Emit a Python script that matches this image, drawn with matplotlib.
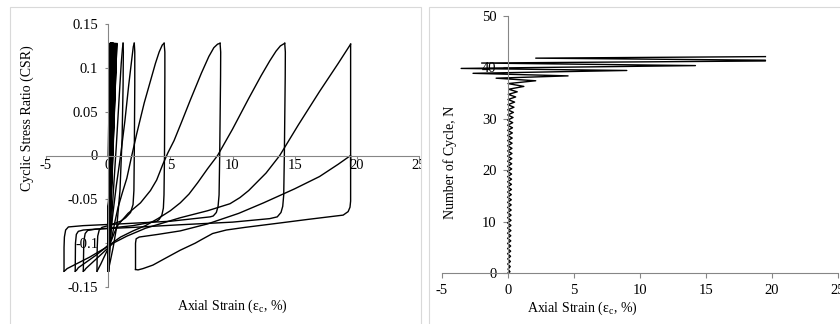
import matplotlib.pyplot as plt
from matplotlib.patches import Rectangle
from matplotlib.transforms import Bbox, TransformedBbox
import numpy as np

plt.rcParams['font.family'] = ['Liberation Serif', 'DejaVu Serif']
plt.rcParams['mathtext.fontset'] = 'custom'
plt.rcParams['mathtext.rm'] = 'Liberation Serif'
plt.rcParams['axes.unicode_minus'] = False

# ---- data ----
csr_top = 0.128
csr_bottom = -0.132

# early (pre-liquefaction) cycles: peak strains per cycle, %
small_max = [0.15, 0.17, 0.18, 0.19, 0.20, 0.20, 0.21, 0.21, 0.22, 0.22, 0.23, 0.23,
             0.24, 0.24, 0.25, 0.25, 0.26, 0.26, 0.27, 0.27, 0.28, 0.28, 0.29, 0.30,
             0.30, 0.31, 0.32, 0.33, 0.34, 0.36, 0.38, 0.41, 0.45, 0.50, 0.58, 0.70]
small_min = [0.00, -0.02, -0.02, -0.03, -0.03, -0.03, -0.03, -0.03, -0.03, -0.03, -0.03, -0.03,
             -0.03, -0.03, -0.03, -0.03, -0.03, -0.03, -0.03, -0.03, -0.03, -0.03, -0.03, -0.03,
             -0.03, -0.03, -0.03, -0.03, -0.03, -0.03, -0.02, -0.02, -0.01, 0.00, 0.02, 0.05]

# late half-cycles (strain %, CSR)
comp_a = [(0.05, -0.132), (0.1, -0.115), (0.2, -0.09), (0.4, -0.045), (0.65, 0.01), (0.9, 0.07),
          (1.05, 0.105), (1.15, 0.122), (1.2, 0.128)]
ext_a = [(1.2, 0.128), (1.22, 0.118), (1.2, 0.08), (1.12, 0.02), (0.95, -0.04), (0.7, -0.08),
         (0.4, -0.105), (0.15, -0.122), (0.0, -0.132)]
comp_b = [(0.0, -0.132), (0.05, -0.12), (0.15, -0.1), (0.35, -0.07), (0.65, -0.035), (1.0, 0.0),
          (1.35, 0.04), (1.65, 0.08), (1.9, 0.11), (2.02, 0.124), (2.1, 0.128)]
ext_b = [(2.1, 0.128), (2.14, 0.118), (2.14, 0.08), (2.1, 0.0), (2.07, -0.04), (2.0, -0.056),
         (1.8, -0.065), (1.4, -0.071), (1.0, -0.075), (0.0, -0.08), (-0.5, -0.082), (-0.72, -0.085),
         (-0.84, -0.092), (-0.88, -0.105), (-0.9, -0.132)]
comp_c = [(-0.9, -0.132), (-0.82, -0.13), (-0.6, -0.124), (-0.3, -0.115), (0.0, -0.106), (0.3, -0.093),
          (0.55, -0.075), (0.8, -0.059), (1.15, -0.042), (1.5, -0.026), (1.9, 0.0), (2.3, 0.025),
          (2.9, 0.06), (3.4, 0.085), (3.8, 0.105), (4.1, 0.118), (4.35, 0.126), (4.5, 0.128)]
ext_c = [(4.5, 0.128), (4.56, 0.118), (4.56, 0.09), (4.53, 0.0), (4.49, -0.045), (4.44, -0.06),
         (4.32, -0.068), (4.1, -0.073), (3.9, -0.075), (2.0, -0.08), (0.0, -0.083), (-2.0, -0.085),
         (-2.4, -0.0865), (-2.56, -0.09), (-2.63, -0.10), (-2.65, -0.132)]
comp_d = [(-2.65, -0.132), (-2.55, -0.131), (-2.4, -0.128), (-1.0, -0.114), (-0.2, -0.105),
          (0.2, -0.099), (0.5, -0.088), (0.8, -0.079), (1.6, -0.066), (2.6, -0.054), (3.4, -0.04),
          (3.9, -0.028), (4.4, -0.01), (4.8, 0.003), (5.3, 0.017), (5.9, 0.038), (6.6, 0.063),
          (7.5, 0.094), (8.1, 0.113), (8.5, 0.123), (8.8, 0.127), (9.0, 0.128)]
ext_d = [(9.0, 0.128), (9.05, 0.118), (9.04, 0.09), (8.97, 0.0), (8.92, -0.045), (8.84, -0.058),
         (8.7, -0.065), (8.45, -0.069), (8.2, -0.07), (5.0, -0.075), (1.0, -0.078), (-2.0, -0.08),
         (-3.2, -0.0815), (-3.42, -0.085), (-3.52, -0.093), (-3.55, -0.105), (-3.55, -0.132)]
comp_e = [(-3.55, -0.132), (-3.45, -0.131), (-3.3, -0.129), (-1.5, -0.116), (-0.3, -0.106),
          (0.3, -0.10), (1.0, -0.093), (2.0, -0.086), (3.0, -0.08), (4.0, -0.072), (5.0, -0.063),
          (5.8, -0.054), (6.5, -0.044), (7.2, -0.031), (8.0, -0.015), (8.8, 0.0), (10.0, 0.03),
          (11.3, 0.065), (12.3, 0.091), (13.0, 0.108), (13.5, 0.119), (13.85, 0.125), (14.2, 0.128)]
ext_e = [(14.2, 0.128), (14.25, 0.118), (14.24, 0.09), (14.17, 0.0), (14.12, -0.045),
         (14.04, -0.058), (13.9, -0.065), (13.6, -0.07), (13.0, -0.072), (10.0, -0.076),
         (5.8, -0.079), (2.0, -0.082), (-1.0, -0.084), (-1.65, -0.0855), (-1.85, -0.089),
         (-1.96, -0.098), (-2.0, -0.132)]
comp_f = [(-2.0, -0.132), (-1.9, -0.131), (-1.8, -0.129), (-0.5, -0.112), (0.4, -0.10), (1.5, -0.092),
          (3.0, -0.083), (5.8, -0.071), (8.0, -0.063), (9.8, -0.055), (10.6, -0.048), (11.3, -0.04),
          (12.0, -0.03), (12.7, -0.02), (13.8, 0.0), (15.3, 0.035), (17.0, 0.073), (18.5, 0.105),
          (19.5, 0.127)]
ext_f = [(19.5, 0.127), (19.5, 0.0), (19.5, -0.052), (19.45, -0.059), (19.3, -0.064), (18.9, -0.068),
         (16.0, -0.073), (13.8, -0.077), (11.0, -0.082), (9.5, -0.085), (8.4, -0.089), (7.5, -0.096),
         (7.0, -0.10), (5.8, -0.108), (4.5, -0.118), (3.6, -0.125), (2.8, -0.129), (2.4, -0.1305),
         (2.2, -0.13)]
comp_g = [(2.2, -0.13), (2.2, -0.1), (2.25, -0.095), (2.5, -0.093), (4.0, -0.09), (5.8, -0.086),
          (8.0, -0.078), (10.5, -0.066), (12.5, -0.054), (15.0, -0.038), (17.0, -0.024),
          (18.5, -0.01), (19.2, -0.003), (19.5, 0.0), (19.5, -0.012)]
late_halves = [comp_a, ext_a, comp_b, ext_b, comp_c, ext_c, comp_d, ext_d,
               comp_e, ext_e, comp_f, ext_f, comp_g]

# strain peaks vs cycle number (right panel) after cycle 36
late_N = [36.3, 36.85, 37.4, 37.9, 38.35, 38.85, 39.4, 39.8, 40.35, 40.85, 41.25, 41.4, 41.8, 42.1]
late_peak = [1.2, 0.0, 2.1, -0.9, 4.55, -2.65, 9.0, -3.55, 14.2, -2.0, 19.5, 19.5, 2.1, 19.5]

x_ticks = [-5, 0, 5, 10, 15, 20, 25]
csr_ticks = [-0.15, -0.1, -0.05, 0, 0.05, 0.1, 0.15]
csr_labels = ['-0.15', '-0.1', '-0.05', '0', '0.05', '0.1', '0.15']
n_ticks = [0, 10, 20, 30, 40, 50]

# ---- figure ----
W, H = 840, 324
fig = plt.figure(figsize=(8.4, 3.24), dpi=100)
for x0, x1 in [(10, 421), (429, 850)]:
    fig.patches.append(Rectangle((x0 / W, -0.05), (x1 - x0) / W, 1 - 7 / H + 0.05,
                                 transform=fig.transFigure, figure=fig,
                                 facecolor='none', edgecolor='#d9d9d9', lw=0.8))

axc = '#868686'
axL = fig.add_axes([46 / W, 1 - 287 / H, 373 / W, 263 / H])
axR = fig.add_axes([442 / W, 1 - 273 / H, 396 / W, 257 / H])
for ax in (axL, axR):
    ax.patch.set_alpha(0)
    for s in ('top', 'right'):
        ax.spines[s].set_visible(False)
    for s in ('left', 'bottom'):
        ax.spines[s].set_color(axc)
        ax.spines[s].set_linewidth(0.8)
    ax.spines['left'].set_position(('data', 0))

# left: hysteresis loops
axL.spines['bottom'].set_position(('data', 0))
sx = [0.0]
sy = [0.0]
for mx, mn in zip(small_max, small_min):
    sx += [mx, mn]
    sy += [csr_top, csr_bottom]
axL.plot(sx, sy, color='black', lw=1.0)
for half in late_halves:
    h = np.array(half)
    axL.plot(h[:, 0], h[:, 1], color='black', lw=1.0, solid_joinstyle='round')

axL.set_xlim(-5, 25)
axL.set_ylim(-0.15, 0.15)
axL.set_xticks(x_ticks)
axL.set_yticks(csr_ticks)
axL.set_yticklabels(csr_labels)
axL.tick_params(axis='x', direction='out', length=2.2, pad=0.5, color=axc, labelsize=10.5)
axL.tick_params(axis='y', direction='out', length=2.2, pad=5, color=axc, labelsize=10.5)
clip = TransformedBbox(Bbox([[0, 0], [421 / W, 1]]), fig.transFigure)
for lbl in axL.get_xticklabels():
    lbl.set_clip_box(clip)
    lbl.set_clip_on(True)

# right: strain history vs number of cycles
rn = [0.0]
rs = [0.0]
for k, (mx, mn) in enumerate(zip(small_max, small_min)):
    rn += [k + 0.25, k + 0.75]
    rs += [mx, mn]
rn += late_N
rs += late_peak
axR.plot(rs, rn, color='black', lw=1.0)
axR.set_xlim(-5, 25)
axR.set_ylim(0, 50)
axR.set_xticks(x_ticks)
axR.set_yticks(n_ticks)
axR.tick_params(direction='out', length=3.6, pad=4.5, color=axc, labelsize=10.5)

# axis titles
fig.text(27 / W, 1 - 118 / H, 'Cyclic Stress Ratio (CSR)', rotation=90, ha='center', va='center', fontsize=10)
fig.text(232 / W, 1 - 306 / H, r'Axial Strain (ε$_\mathrm{c}$, %)', ha='center', va='center', fontsize=10)
fig.text(450 / W, 1 - 162 / H, 'Number of Cycle, N', rotation=90, ha='center', va='center', fontsize=10)
fig.text(582 / W, 1 - 308 / H, r'Axial Strain (ε$_\mathrm{c}$, %)', ha='center', va='center', fontsize=10)

fig.savefig('out.png', dpi=100)
